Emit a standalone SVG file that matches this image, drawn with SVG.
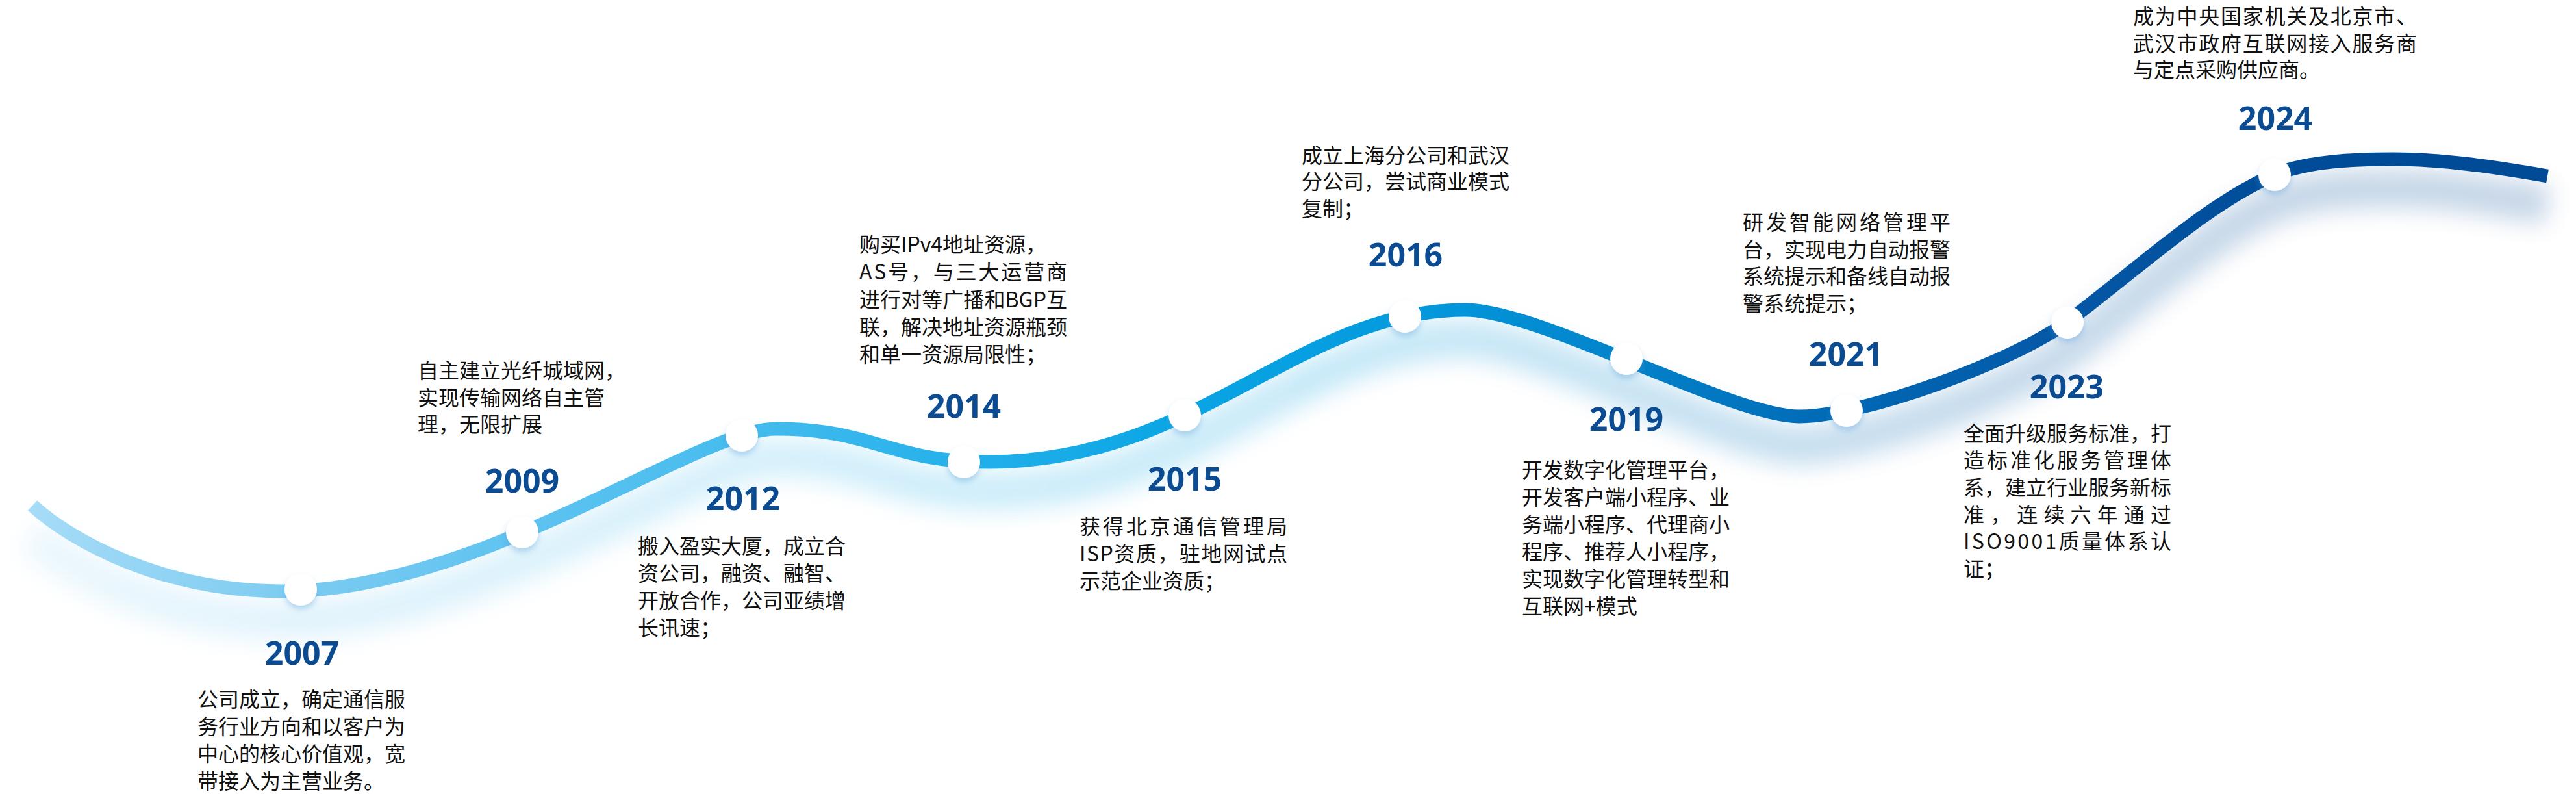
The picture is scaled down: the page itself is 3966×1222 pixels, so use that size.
<svg xmlns="http://www.w3.org/2000/svg" xmlns:xlink="http://www.w3.org/1999/xlink" width="3966" height="1222" viewBox="0 0 3966 1222">
<defs>
<style>
.year{font-family:"Noto Sans","Liberation Sans",sans-serif;font-weight:700;font-size:50px;fill:#0b4b92;text-anchor:middle}
.desc{font-family:"Noto Sans CJK SC","Noto Sans",sans-serif;font-size:32px;fill:#111111}
.dot{fill:#ffffff;filter:url(#dotShadow)}
</style>
<linearGradient id="lineGrad" gradientUnits="userSpaceOnUse" x1="40" y1="0" x2="3930" y2="0">
<stop offset="0" stop-color="#a7dcf7"/>
<stop offset="0.108" stop-color="#7ccbf1"/>
<stop offset="0.195" stop-color="#5fc3f0"/>
<stop offset="0.283" stop-color="#46bcee"/>
<stop offset="0.375" stop-color="#22b0ea"/>
<stop offset="0.458" stop-color="#0aa5e4"/>
<stop offset="0.545" stop-color="#039ade"/>
<stop offset="0.632" stop-color="#0383ca"/>
<stop offset="0.720" stop-color="#0068b5"/>
<stop offset="0.807" stop-color="#0558a6"/>
<stop offset="0.889" stop-color="#004c98"/>
<stop offset="1" stop-color="#004a96"/>
</linearGradient>
<filter id="glow" filterUnits="userSpaceOnUse" x="-200" y="0" width="4400" height="1222">
<feGaussianBlur stdDeviation="18"/>
</filter>
<filter id="dotShadow" x="-60%" y="-60%" width="220%" height="240%">
<feDropShadow dx="0" dy="6" stdDeviation="5" flood-color="#4a98d4" flood-opacity="0.35"/>
</filter>
<path id="curve" d="M50,778 C110,833 250,910 435,910 C740,910 1073,660 1195,660 C1345,660 1370,711 1520,711 C1848,711 1995,477 2256,477 C2371,477 2665,641 2770,641 C2870,641 3103,555 3183,495 C3293,412.5 3402,311 3502,269 C3552,248 3625,245 3685,245 C3760,245 3842,257 3922,271"/>
</defs>
<rect width="3966" height="1222" fill="#ffffff"/>
<g id="connectors">
<use xlink:href="#curve" href="#curve" transform="translate(0,45)" fill="none" stroke="url(#lineGrad)" stroke-width="60" opacity="0.22" filter="url(#glow)"/>
<use xlink:href="#curve" href="#curve" fill="none" stroke="url(#lineGrad)" stroke-width="21" stroke-linecap="butt"/>
</g>
<g id="node-2007">
<circle class="dot" cx="463" cy="907" r="25"/>
<text class="year" x="465" y="1023">2007</text>
<text class="desc"><tspan x="304" y="1088" textLength="320" lengthAdjust="spacing">公司成立，确定通信服</tspan><tspan x="304" y="1130" textLength="320" lengthAdjust="spacing">务行业方向和以客户为</tspan><tspan x="304" y="1172" textLength="320" lengthAdjust="spacing">中心的核心价值观，宽</tspan><tspan x="304" y="1214">带接入为主营业务。</tspan></text>
</g>
<g id="node-2009">
<circle class="dot" cx="804" cy="819" r="25"/>
<text class="year" x="804" y="758">2009</text>
<text class="desc"><tspan x="643" y="582">自主建立光纤城域网，</tspan><tspan x="643" y="624">实现传输网络自主管</tspan><tspan x="643" y="665">理，无限扩展</tspan></text>
</g>
<g id="node-2012">
<circle class="dot" cx="1142" cy="670" r="25"/>
<text class="year" x="1144" y="785">2012</text>
<text class="desc"><tspan x="982" y="852" textLength="320" lengthAdjust="spacing">搬入盈实大厦，成立合</tspan><tspan x="982" y="894" textLength="320" lengthAdjust="spacing">资公司，融资、融智、</tspan><tspan x="982" y="936" textLength="320" lengthAdjust="spacing">开放合作，公司亚绩增</tspan><tspan x="982" y="978">长讯速；</tspan></text>
</g>
<g id="node-2014">
<circle class="dot" cx="1484" cy="711" r="25"/>
<text class="year" x="1484" y="643">2014</text>
<text class="desc"><tspan x="1323" y="388">购买IPv4地址资源，</tspan><tspan x="1323" y="430" textLength="320" lengthAdjust="spacing">AS号，与三大运营商</tspan><tspan x="1323" y="473" textLength="320" lengthAdjust="spacing">进行对等广播和BGP互</tspan><tspan x="1323" y="515" textLength="320" lengthAdjust="spacing">联，解决地址资源瓶颈</tspan><tspan x="1323" y="557">和单一资源局限性；</tspan></text>
</g>
<g id="node-2015">
<circle class="dot" cx="1824" cy="639" r="25"/>
<text class="year" x="1824" y="755">2015</text>
<text class="desc"><tspan x="1662" y="822" textLength="320" lengthAdjust="spacing">获得北京通信管理局</tspan><tspan x="1662" y="864" textLength="320" lengthAdjust="spacing">ISP资质，驻地网试点</tspan><tspan x="1662" y="906">示范企业资质；</tspan></text>
</g>
<g id="node-2016">
<circle class="dot" cx="2163" cy="487" r="25"/>
<text class="year" x="2164" y="410">2016</text>
<text class="desc"><tspan x="2004" y="251" textLength="320" lengthAdjust="spacing">成立上海分公司和武汉</tspan><tspan x="2004" y="291" textLength="320" lengthAdjust="spacing">分公司，尝试商业模式</tspan><tspan x="2004" y="333">复制；</tspan></text>
</g>
<g id="node-2019">
<circle class="dot" cx="2504" cy="552" r="25"/>
<text class="year" x="2504" y="663">2019</text>
<text class="desc"><tspan x="2343" y="735" textLength="320" lengthAdjust="spacing">开发数字化管理平台，</tspan><tspan x="2343" y="777" textLength="320" lengthAdjust="spacing">开发客户端小程序、业</tspan><tspan x="2343" y="819" textLength="320" lengthAdjust="spacing">务端小程序、代理商小</tspan><tspan x="2343" y="861" textLength="320" lengthAdjust="spacing">程序、推荐人小程序，</tspan><tspan x="2343" y="903" textLength="320" lengthAdjust="spacing">实现数字化管理转型和</tspan><tspan x="2343" y="945">互联网+模式</tspan></text>
</g>
<g id="node-2021">
<circle class="dot" cx="2843" cy="632" r="25"/>
<text class="year" x="2842" y="563">2021</text>
<text class="desc"><tspan x="2683" y="354" textLength="320" lengthAdjust="spacing">研发智能网络管理平</tspan><tspan x="2683" y="396" textLength="320" lengthAdjust="spacing">台，实现电力自动报警</tspan><tspan x="2683" y="437" textLength="320" lengthAdjust="spacing">系统提示和备线自动报</tspan><tspan x="2683" y="479">警系统提示；</tspan></text>
</g>
<g id="node-2023">
<circle class="dot" cx="3183" cy="496" r="25"/>
<text class="year" x="3182" y="613">2023</text>
<text class="desc"><tspan x="3023" y="679" textLength="320" lengthAdjust="spacing">全面升级服务标准，打</tspan><tspan x="3023" y="720" textLength="320" lengthAdjust="spacing">造标准化服务管理体</tspan><tspan x="3023" y="762" textLength="320" lengthAdjust="spacing">系，建立行业服务新标</tspan><tspan x="3023" y="804" textLength="320" lengthAdjust="spacing">准，连续六年通过</tspan><tspan x="3023" y="845" textLength="320" lengthAdjust="spacing">ISO9001质量体系认</tspan><tspan x="3023" y="887">证；</tspan></text>
</g>
<g id="node-2024">
<circle class="dot" cx="3502" cy="269" r="25"/>
<text class="year" x="3503" y="200">2024</text>
<text class="desc"><tspan x="3284" y="37" textLength="437" lengthAdjust="spacing">成为中央国家机关及北京市、</tspan><tspan x="3284" y="79" textLength="437" lengthAdjust="spacing">武汉市政府互联网接入服务商</tspan><tspan x="3284" y="119">与定点采购供应商。</tspan></text>
</g>
</svg>
